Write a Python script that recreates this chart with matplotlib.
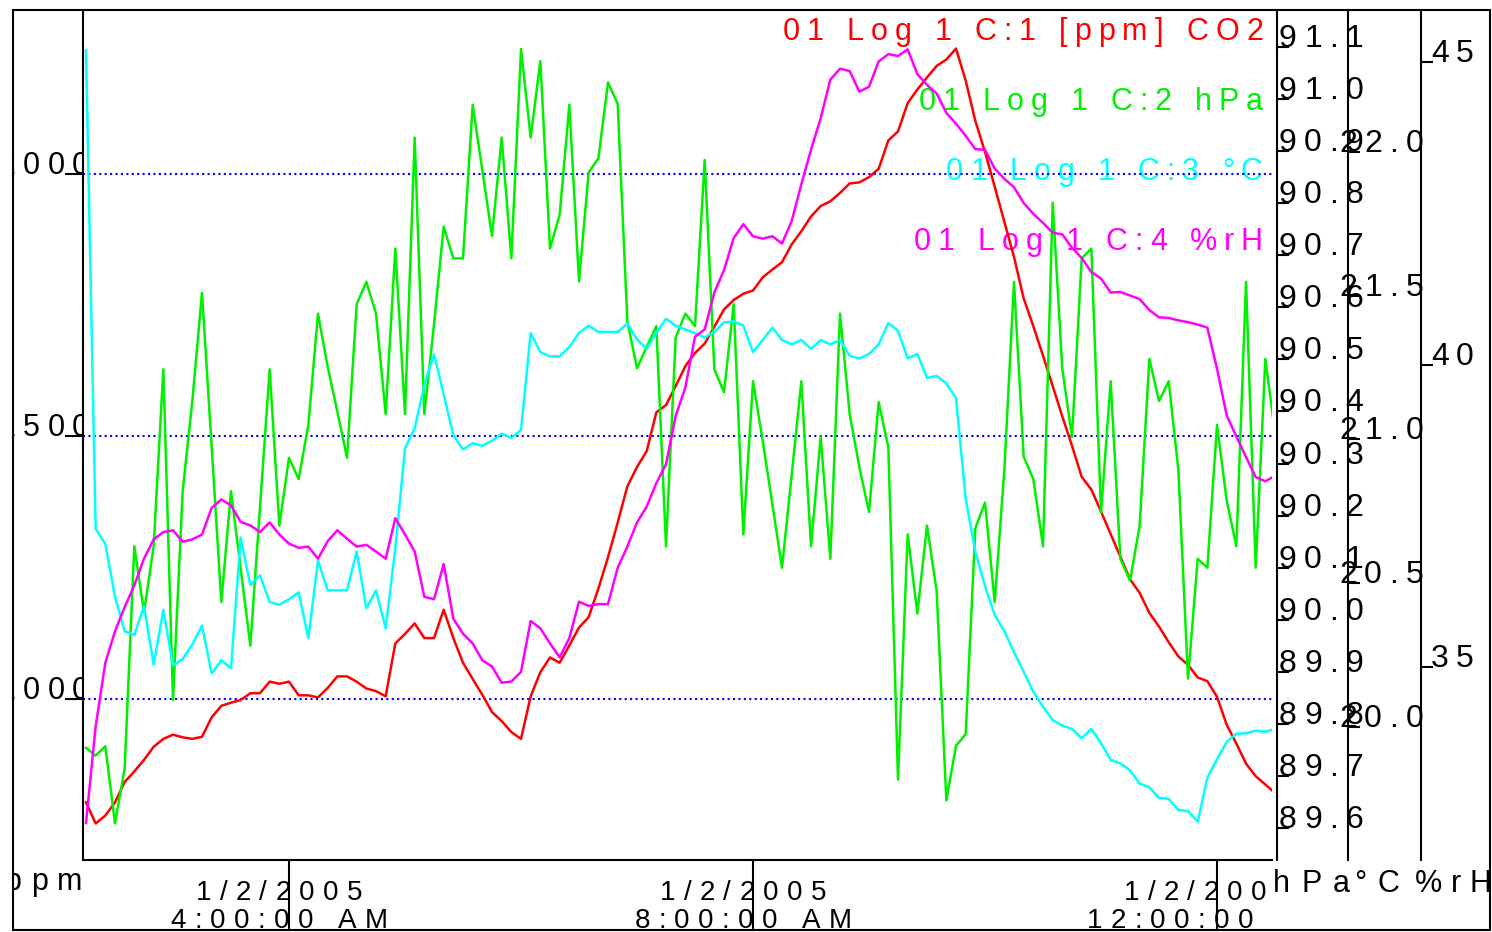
import datetime as dt
import numpy as np
import pandas as pd
import matplotlib
matplotlib.use("Agg")
import matplotlib.pyplot as plt
import matplotlib.dates as mdates
from matplotlib.patches import Rectangle
from matplotlib.font_manager import FontProperties, findfont
from matplotlib.ft2font import FT2Font
from matplotlib.transforms import offset_copy, blended_transform_factory, Bbox, TransformedBbox

# ---------------- data (logger 01, one sample every 5 min) ----------------
TIMES = pd.date_range("2005-01-02 02:15", periods=124, freq="5min").to_pydatetime()

CO2_PPM = [
    803, 763, 778, 803, 842, 862, 884, 909, 924, 932, 927, 924, 928, 965, 987, 993,
    998, 1011, 1011, 1033, 1029, 1033, 1007, 1007, 1003, 1021, 1043, 1043, 1033, 1020, 1015,
    1005, 1106, 1124, 1144, 1116, 1116, 1170, 1116, 1069, 1038, 1008, 975, 958, 937, 924,
    1005, 1051, 1079, 1069, 1102, 1136, 1156, 1210, 1270, 1336, 1405, 1442, 1472, 1546, 1560, 1596,
    1634, 1659, 1677, 1709, 1742, 1760, 1772, 1778, 1803, 1818, 1832, 1866, 1891, 1919, 1939,
    1948, 1964, 1982, 1984, 1994, 2010, 2064, 2081, 2135, 2161, 2184, 2206, 2218, 2239, 2178, 2101,
    2042, 1976, 1909, 1842, 1763, 1710, 1654, 1596, 1538, 1482, 1423, 1399, 1357, 1314, 1271,
    1228, 1202, 1164, 1138, 1108, 1081, 1065, 1041, 1034, 1004, 951, 915, 877, 853, 837, 821,
]
PRESS_HPA = [
    89.754, 89.739, 89.757, 89.609, 89.714, 90.141, 90.014, 90.141, 90.481, 89.846, 90.247,
    90.420, 90.628, 90.332, 90.034, 90.247, 90.099, 89.950, 90.216, 90.481, 90.181, 90.311,
    90.270, 90.374, 90.588, 90.486, 90.400, 90.311, 90.606, 90.649, 90.588,
    90.395, 90.713, 90.395, 90.926, 90.395, 90.567, 90.755, 90.694, 90.694, 90.989, 90.863,
    90.737, 90.926, 90.694, 91.096, 90.926, 91.073, 90.713, 90.778, 90.989, 90.650, 90.859,
    90.886, 91.032, 90.991, 90.573, 90.483, 90.524, 90.564, 90.141, 90.542,
    90.588, 90.564, 90.883, 90.481, 90.437, 90.606, 90.164, 90.458, 90.344, 90.222, 90.100,
    90.278, 90.458, 90.141, 90.351, 90.117, 90.588, 90.395, 90.293, 90.207, 90.418, 90.331,
    89.693, 90.164, 90.012, 90.181, 90.054, 89.653, 89.758, 89.780, 90.176,
    90.225, 90.034, 90.288, 90.649, 90.313, 90.270, 90.141, 90.801, 90.481, 90.351, 90.694,
    90.713, 90.205, 90.458, 90.117, 90.075, 90.181, 90.501, 90.420, 90.458, 90.288, 89.887,
    90.117, 90.100, 90.374, 90.229, 90.141, 90.649, 90.100, 90.501, 90.359,
]
TEMP_C = [
    22.354, 20.689, 20.637, 20.453, 20.333, 20.320, 20.420, 20.217, 20.407, 20.214, 20.236,
    20.287, 20.352, 20.186, 20.232, 20.204, 20.659, 20.494, 20.527, 20.435, 20.425, 20.444,
    20.468, 20.309, 20.578, 20.475, 20.475, 20.475, 20.610, 20.413, 20.475,
    20.343, 20.622, 20.969, 21.039, 21.190, 21.297, 21.157, 21.015, 20.965, 20.987, 20.978,
    20.996, 21.020, 21.006, 21.033, 21.370, 21.304, 21.289, 21.289, 21.322, 21.370, 21.396,
    21.374, 21.374, 21.374, 21.403, 21.348, 21.315, 21.370, 21.420, 21.396,
    21.383, 21.370, 21.355, 21.374, 21.407, 21.411, 21.396, 21.304, 21.346, 21.389, 21.346,
    21.331, 21.346, 21.315, 21.346, 21.331, 21.346, 21.291, 21.282, 21.297, 21.331, 21.405,
    21.378, 21.282, 21.297, 21.214, 21.221, 21.195, 21.144, 20.794, 20.610,
    20.490, 20.389, 20.333, 20.260, 20.192, 20.122, 20.070, 20.024, 20.004, 19.993, 19.961,
    19.993, 19.943, 19.886, 19.873, 19.849, 19.803, 19.790, 19.753, 19.750, 19.711, 19.707,
    19.670, 19.823, 19.888, 19.948, 19.976, 19.978, 19.987, 19.983, 19.993,
]
HUM_RH = [
    32.42, 34.02, 35.07, 35.59, 35.99, 36.35, 36.79, 37.11, 37.23, 37.26, 37.07, 37.11,
    37.19, 37.63, 37.77, 37.67, 37.40, 37.34, 37.23, 37.39, 37.19, 37.04, 36.97, 36.99,
    36.79, 37.08, 37.26, 37.12, 36.99, 37.02, 36.91,
    36.79, 37.46, 37.19, 36.91, 36.16, 36.12, 36.70, 35.80, 35.55, 35.39, 35.11, 35.01,
    34.74, 34.76, 34.92, 35.76, 35.64, 35.39, 35.16, 35.48, 36.08, 36.01, 36.04, 36.04,
    36.64, 36.99, 37.39, 37.65, 38.04, 38.35, 39.15,
    39.62, 40.46, 40.58, 41.19, 41.56, 42.09, 42.32, 42.12, 42.08, 42.12, 42.00, 42.37,
    42.98, 43.55, 44.07, 44.71, 44.89, 44.85, 44.51, 44.59, 45.01, 45.13, 45.10, 45.21,
    44.80, 44.62, 44.48, 44.16, 43.98, 43.78, 43.56,
    43.55, 43.24, 43.07, 42.93, 42.67, 42.49, 42.34, 42.18, 42.15, 41.93, 41.76, 41.53,
    41.42, 41.19, 41.20, 41.14, 41.08, 40.90, 40.78, 40.77, 40.73, 40.70, 40.66, 40.61,
    39.93, 39.16, 38.81, 38.47, 38.14, 38.07, 38.16,
]

LEGEND = ["01 Log 1 C:1 [ppm] CO2", "01 Log 1 C:2 hPa", "01 Log 1 C:3 °C", "01 Log 1 C:4 %rH"]
UNITS = ["ppm", "hPa", "°C", "%rH"]
COLORS = ["#ff0000", "#00f000", "#00ffff", "#ff00ff"]

CO2_TICKS = [1000, 1500, 2000]
HPA_TICKS = [89.6, 89.7, 89.8, 89.9, 90.0, 90.1, 90.2, 90.3, 90.4, 90.5, 90.6, 90.7, 90.8, 90.9, 91.0, 91.1]
TEMP_TICKS = [20.0, 20.5, 21.0, 21.5, 22.0]
HUM_TICKS = [35, 40, 45]
TIME_TICKS = [dt.datetime(2005, 1, 2, 4), dt.datetime(2005, 1, 2, 8), dt.datetime(2005, 1, 2, 12)]

# ---------------- layout helpers (pixel -> figure fraction) ----------------
W, H = 1492, 932
FAMILY = "Liberation Sans"
LW = 1.8


def fx(px):
    return px / W


def fy(py):
    return 1 - py / H


_FT = FT2Font(findfont(FontProperties(family=FAMILY)))


def adv_pt(ch, size):
    _FT.set_size(size, 72)
    return _FT.load_char(ord(ch)).linearHoriAdvance / 65536.0


def spaced(x, y, s, base, size, track, color="black", ha="left", clip=None, zorder=3):
    """letter-spaced text: one glyph per Text, advance + track (points)"""
    advs = [adv_pt(c, size) for c in s]
    total = sum(advs) + track * (len(s) - 1)
    off = {"left": 0.0, "center": -total / 2, "right": -total}[ha]
    for c, a in zip(s, advs):
        if c != " ":
            t = fig.text(x, y, c, transform=offset_copy(base, fig=fig, x=off, y=0, units="points"),
                         fontsize=size, family=FAMILY, color=color, ha="left", va="baseline",
                         zorder=zorder)
            if clip is not None:
                t.set_clip_box(TransformedBbox(Bbox(clip), fig.transFigure))
                t.set_clip_on(True)
        off += a + track


fig = plt.figure(figsize=(W / 100, H / 100), dpi=100)
fig.patch.set_facecolor("white")

ax = fig.add_axes([fx(83), fy(860), fx(1272) - fx(83), fy(10) - fy(860)])
ax.set_facecolor("none")
ax_h = ax.twinx()
ax_c = ax.twinx()
ax_r = ax.twinx()

ax.plot(TIMES, CO2_PPM, color=COLORS[0], lw=LW)
ax_h.plot(TIMES, PRESS_HPA, color=COLORS[1], lw=LW)
ax_c.plot(TIMES, TEMP_C, color=COLORS[2], lw=LW)
ax_r.plot(TIMES, HUM_RH, color=COLORS[3], lw=LW)

ax.set_xlim(dt.datetime(2005, 1, 2, 2, 13, 27), dt.datetime(2005, 1, 2, 12, 28, 26))
ax.set_ylim(693.3, 2312.4)
ax_h.set_ylim(89.5385, 91.1711)
ax_c.set_ylim(19.537, 22.494)
ax_r.set_ylim(31.81, 45.86)

# main axis
for s in ["top", "right"]:
    ax.spines[s].set_visible(False)
for s in ["left", "bottom"]:
    ax.spines[s].set_linewidth(1.5)
ax.set_yticks(CO2_TICKS)
ax.tick_params(axis="y", length=13, width=1.5, labelleft=False)
ax.set_xticks(TIME_TICKS)
ax.tick_params(axis="x", length=50.5, width=1.5, labelbottom=False)
ax.yaxis.grid(True, color="#0000ff", ls=(0, (1, 1.6)), lw=1.5)
ax.xaxis.grid(False)

# three right-hand axes
for a, pos, ticks in [(ax_h, 1277, HPA_TICKS), (ax_c, 1348, TEMP_TICKS), (ax_r, 1421, HUM_TICKS)]:
    for s in ["top", "left", "bottom"]:
        a.spines[s].set_visible(False)
    a.spines["right"].set_position(("axes", (pos - 83) / (1272 - 83)))
    a.spines["right"].set_linewidth(1.5)
    a.set_yticks(ticks)
    a.tick_params(axis="y", length=8.6, width=1.5, labelright=False)

# tick labels, drawn as letter-spaced text on the axes' scales
for v in CO2_TICKS:
    spaced(fx(-1), v, f"{v}", blended_transform_factory(fig.transFigure, ax.transData),
           22, 5.2, clip=[[fx(13), 0], [fx(83), 1]])
for v in HPA_TICKS:
    spaced(fx(1279), v, f"{v:.1f}", blended_transform_factory(fig.transFigure, ax_h.transData), 23, 5.3)
for v in TEMP_TICKS:
    spaced(fx(1339), v, f"{v:.1f}", blended_transform_factory(fig.transFigure, ax_c.transData), 23, 5.3)
for v in HUM_TICKS:
    spaced(fx(1431), v, f"{v}", blended_transform_factory(fig.transFigure, ax_r.transData), 23, 5.3)

date_base = blended_transform_factory(ax.transData, fig.transFigure)
for d in TIME_TICKS:
    xd = mdates.date2num(d)
    clock = d.strftime("%I:%M:%S %p").lstrip("0")
    shift = offset_copy(date_base, fig=fig, x=-7.2, units="points")
    spaced(xd, fy(900), f"{d.month}/{d.day}/{d.year}", shift,
           20, 6.0, ha="center", clip=[[0, 0], [fx(1270), 1]])
    spaced(xd, fy(928), clock, shift,
           20, 6.0, ha="center", clip=[[0, 0], [fx(1270), 1]])

# unit captions
spaced(fx(4), fy(890), UNITS[0], fig.transFigure, 22, 7.0, clip=[[fx(13), 0], [1, 1]])
spaced(fx(1273), fy(892), UNITS[1], fig.transFigure, 22, 8.0)
spaced(fx(1354), fy(892), UNITS[2], fig.transFigure, 22, 8.0)
spaced(fx(1415), fy(892), UNITS[3], fig.transFigure, 22, 6.0)

# channel captions (under the traces)
for i, (lbl, col) in enumerate(zip(LEGEND, COLORS)):
    spaced(fx(1263), fy(40 + 70 * i), lbl, fig.transFigure, 22, 5.1, color=col, ha="right", zorder=-1)

# outer frame
fig.add_artist(Rectangle((fx(13), fy(930)), fx(1490) - fx(13), fy(10) - fy(930),
                         transform=fig.transFigure, fill=False, lw=1.5, ec="black", zorder=5))

fig.savefig("out.png", dpi=100, facecolor="white")
